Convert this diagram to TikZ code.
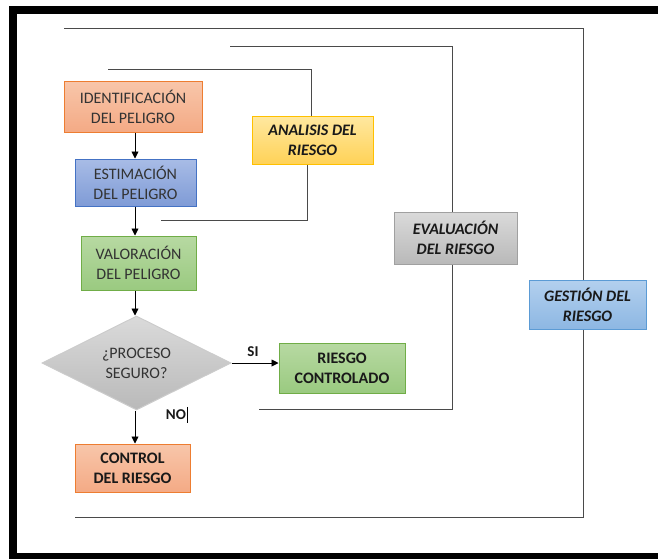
\documentclass[tikz,border=0pt]{standalone}
\usepackage{fontspec}
\setmainfont{Carlito}
\usetikzlibrary{shapes.geometric,arrows.meta}

\definecolor{txtgray}{HTML}{333333}
\definecolor{linegray}{HTML}{4A4A4A}
\definecolor{peachtop}{HTML}{F8C6AA}
\definecolor{peachbot}{HTML}{F4AA85}
\definecolor{peachrim}{HTML}{ED7D31}
\definecolor{bluetop}{HTML}{A8BCE6}
\definecolor{bluebot}{HTML}{7F9BD6}
\definecolor{bluerim}{HTML}{4472C4}
\definecolor{greentop}{HTML}{B7D9A2}
\definecolor{greenbot}{HTML}{9ACA80}
\definecolor{greenrim}{HTML}{70AD47}
\definecolor{ambertop}{HTML}{FFE8A0}
\definecolor{amberbot}{HTML}{FFD257}
\definecolor{amberrim}{HTML}{FFC000}
\definecolor{silvertop}{HTML}{DADADA}
\definecolor{silverbot}{HTML}{B9B9B9}
\definecolor{silverrim}{HTML}{A0A0A0}
\definecolor{skytop}{HTML}{B3D0EE}
\definecolor{skybot}{HTML}{8DB7E3}
\definecolor{skyrim}{HTML}{5B9BD5}

\begin{document}
\begin{tikzpicture}[x=1pt,y=-1pt,
  box/.style={rectangle,line width=1pt,inner sep=0pt,align=center,
    font=\fontsize{16}{20}\selectfont,text=txtgray},
  strong/.style={font=\fontsize{16}{20}\selectfont\bfseries,text=black!90},
  stage/.style={font=\fontsize{16}{20}\selectfont\bfseries\itshape,text=black!90},
  peach/.style={draw=peachrim,top color=peachtop,bottom color=peachbot},
  bluish/.style={draw=bluerim,top color=bluetop,bottom color=bluebot},
  greenish/.style={draw=greenrim,top color=greentop,bottom color=greenbot},
  amber/.style={draw=amberrim,top color=ambertop,bottom color=amberbot},
  silver/.style={draw=silverrim,top color=silvertop,bottom color=silverbot},
  skyblue/.style={draw=skyrim,top color=skytop,bottom color=skybot},
  bracket/.style={draw=linegray,line width=0.9pt},
  flow/.style={draw=black,line width=0.9pt,-{Triangle[length=7pt,width=7pt]}},
  lbl/.style={inner sep=0pt,font=\fontsize{15}{18}\selectfont\bfseries,text=black!90}]

  \clip (0,0) rectangle (658,558);
  \useasboundingbox (0,0) rectangle (658,558);
  \draw[line width=8pt] (13,10) rectangle (664,557);

  \node[box,peach,minimum width=138pt,minimum height=51pt] (ident) at (133,106.5) {IDENTIFICACIÓN\\DEL PELIGRO};
  \node[box,bluish,minimum width=121pt,minimum height=47pt] (estim) at (135.5,182.5) {ESTIMACIÓN\\DEL PELIGRO};
  \node[box,greenish,minimum width=115pt,minimum height=54pt] (valor) at (138.5,263) {VALORACIÓN\\DEL PELIGRO};
  \node[box,diamond,aspect=2,silver,draw=black!20,minimum width=189pt,minimum height=94pt] (proc) at (136.5,363) {¿PROCESO\\SEGURO?};
  \node[box,strong,peach,minimum width=115pt,minimum height=48pt] (ctrl) at (132.5,468) {CONTROL\\DEL RIESGO};
  \node[box,strong,greenish,minimum width=126pt,minimum height=50pt] (rc) at (342,368) {RIESGO\\CONTROLADO};

  \node[box,stage,amber,minimum width=121pt,minimum height=48pt] (an) at (312.5,140) {ANALISIS DEL\\RIESGO};
  \node[box,stage,silver,minimum width=123pt,minimum height=52pt] (ev) at (455.5,238) {EVALUACIÓN\\DEL RIESGO};
  \node[box,stage,skyblue,minimum width=117pt,minimum height=49pt] (gs) at (587.5,304.5) {GESTIÓN DEL\\RIESGO};

  \coordinate (axis) at (135,0);
  \draw[flow] (ident.south -| axis) -- (estim.north -| axis);
  \draw[flow] (estim.south -| axis) -- (valor.north -| axis);
  \draw[flow] (valor.south -| axis) -- (proc.north -| axis);
  \draw[flow] (proc.south -| axis) -- (ctrl.north -| axis);
  \draw[flow] (proc.east) -- (proc.east -| rc.west);

  \node[lbl] (si) at (253,352) {SI};
  \node[lbl] (no) at (176,415) {NO};
  \draw[line width=0.6pt] ([xshift=1.5pt,yshift=3pt]no.north east) -- ([xshift=1.5pt,yshift=-3pt]no.south east);

  \coordinate (anT) at (108,69);
  \coordinate (anB) at (161,220);
  \draw[bracket] (anT) -| ([xshift=-1.5pt]an.north);
  \draw[bracket] ([xshift=-5.5pt]an.south) |- (anB);

  \coordinate (evT) at (230,46);
  \coordinate (evB) at (259,409);
  \draw[bracket] (evT) -| ([xshift=-3.5pt]ev.north);
  \draw[bracket] ([xshift=-3.5pt]ev.south) |- (evB);

  \coordinate (gsT) at (64,28);
  \coordinate (gsB) at (75,517);
  \draw[bracket] (gsT) -| ([xshift=-4.5pt]gs.north);
  \draw[bracket] ([xshift=-4.5pt]gs.south) |- (gsB);
\end{tikzpicture}
\end{document}
